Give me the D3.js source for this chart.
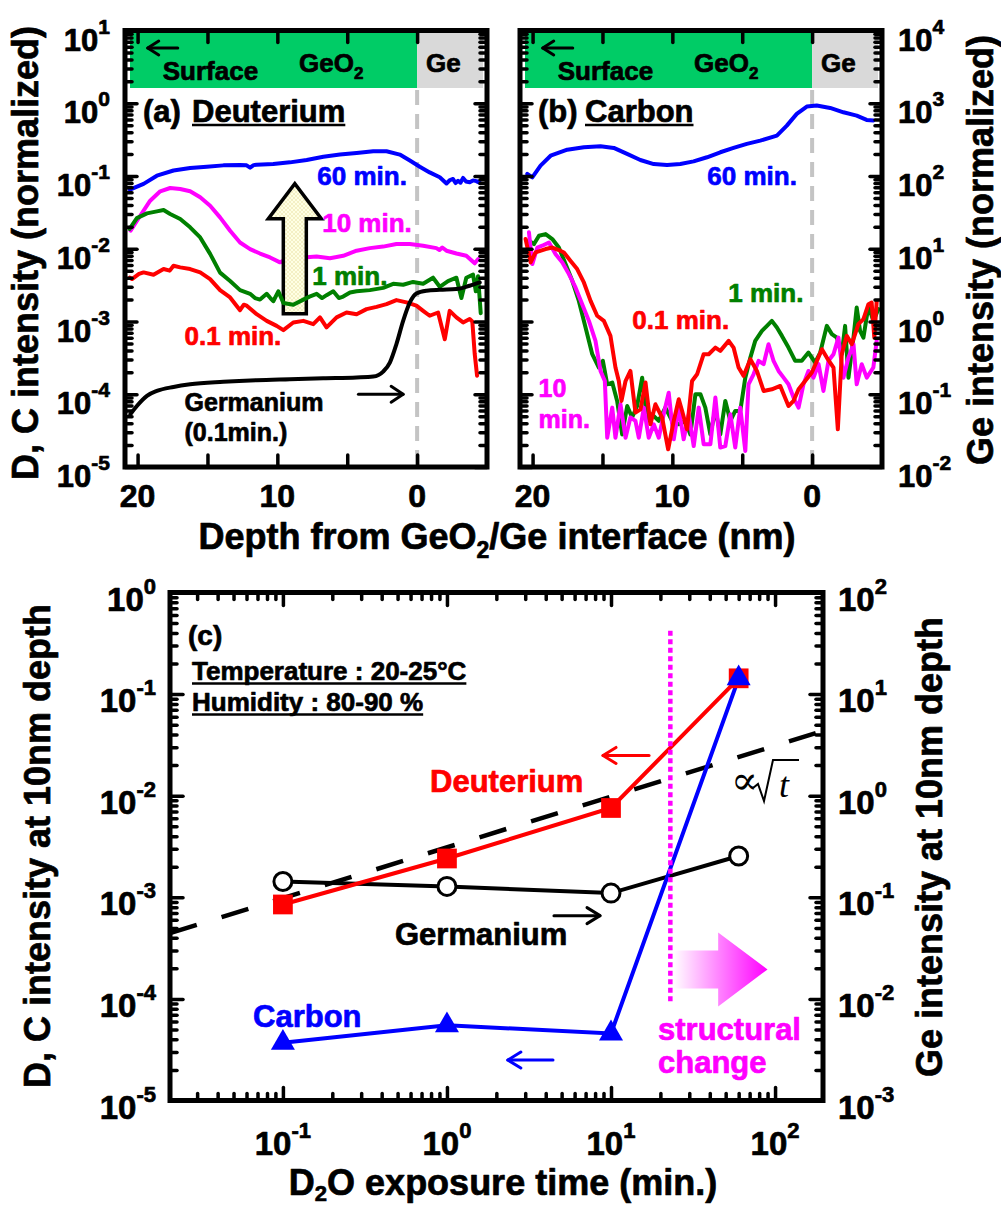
<!DOCTYPE html>
<html><head><meta charset="utf-8">
<script src="https://cdn.jsdelivr.net/npm/d3@7"></script>
<style>
html,body{margin:0;padding:0;background:#fff;}
svg{display:block;}
text{font-family:"Liberation Sans",Arial,sans-serif;font-weight:bold;}
</style></head><body>
<svg id="fig" width="1001" height="1207"></svg>
<script>
// ---------------- data: depth profiles (depth in nm, normalized intensity) ----------------
const depthTicks = [20, 15, 10, 5, 0];
const depthTickLabels = [20, 10, 0];
const dcExponentsAB = [1, 0, -1, -2, -3, -4, -5];   // D, C axis (panels a, b)
const geExponentsAB = [4, 3, 2, 1, 0, -1, -2];      // Ge axis (panel b)

// (a) deuterium
const deut60 = [[20.55,0.065],[19.57,0.078],[18.62,0.101],[17.43,0.119],[16.24,0.129],[15.05,0.134],[13.86,0.140],[12.67,0.142],[12.2,0.140],[11.95,0.130],[11.7,0.141],[11.48,0.143],[10.29,0.146],[9.10,0.154],[7.90,0.166],[6.71,0.184],[5.52,0.197],[4.33,0.207],[3.14,0.219],[2.19,0.219],[1.24,0.197],[0.52,0.163],[-0.19,0.134],[-0.90,0.112],[-1.62,0.096],[-2.10,0.079],[-2.35,0.088],[-2.57,0.091],[-2.75,0.080],[-2.93,0.086],[-3.1,0.081],[-3.29,0.094],[-3.5,0.084],[-3.76,0.082],[-4.0,0.087],[-4.24,0.085],[-4.5,0.080]];
const deut10 = [[20.5,0.0178],[19.81,0.0284],[19.10,0.0458],[18.38,0.0616],[17.67,0.0684],[16.95,0.0663],[16.24,0.0616],[15.52,0.0509],[14.81,0.0391],[14.10,0.027],[13.38,0.0177],[12.67,0.0122],[11.95,0.0099],[11.24,0.0086],[10.52,0.0076],[9.81,0.0065],[9.33,0.0072],[8.14,0.0076],[7.19,0.0078],[6.24,0.0074],[5.29,0.0080],[4.33,0.0094],[3.38,0.0102],[2.43,0.0107],[1.48,0.0116],[0.52,0.0116],[-0.43,0.0110],[-1.38,0.0102],[-1.6,0.0096],[-1.8,0.0104],[-2.10,0.0094],[-2.81,0.0086],[-3.52,0.0080],[-4.12,0.0063],[-4.36,0.0072]];
const deut1 = [[20.57,0.0187],[20.05,0.0264],[19.33,0.0306],[18.62,0.0326],[18.14,0.034],[17.67,0.030],[16.95,0.0256],[16.24,0.0197],[15.52,0.0143],[14.81,0.0085],[14.10,0.0047],[13.38,0.0036],[12.67,0.0027],[11.95,0.0024],[11.6,0.0021],[11.24,0.0020],[10.76,0.0024],[10.5,0.0021],[10.29,0.0019],[9.93,0.0026],[9.57,0.0018],[8.86,0.0017],[8.14,0.0020],[7.7,0.0022],[7.19,0.0024],[6.8,0.0021],[6.48,0.0023],[6.0,0.0026],[5.6,0.0021],[5.29,0.0022],[4.8,0.0025],[4.33,0.0026],[3.38,0.0027],[2.43,0.0029],[1.71,0.0033],[1.0,0.0032],[0.29,0.0035],[-0.43,0.0033],[-1.14,0.0040],[-1.62,0.0030],[-2.21,0.0036],[-2.81,0.0040],[-3.17,0.0021],[-3.52,0.0040],[-4.0,0.0044],[-4.2,0.0026],[-4.36,0.0042],[-4.55,0.0013]];
const deut01 = [[20.55,0.0040],[20.4,0.00383],[19.9,0.0045],[19.57,0.00473],[18.86,0.0044],[18.14,0.00526],[17.7,0.0050],[17.43,0.00585],[16.95,0.00555],[16.24,0.00526],[15.52,0.00473],[14.81,0.00383],[14.10,0.0027],[13.38,0.00214],[12.67,0.00143],[12.4,0.0017],[12.19,0.00165],[11.48,0.00126],[10.76,0.00102],[10.05,0.00087],[9.57,0.00076],[8.86,0.00097],[8.14,0.00102],[7.43,0.00092],[6.95,0.00114],[6.48,0.00083],[5.76,0.00114],[5.05,0.00133],[4.33,0.00126],[3.62,0.00148],[2.90,0.00159],[2.19,0.00173],[1.48,0.00197],[0.76,0.00183],[0.05,0.00165],[-0.43,0.0014],[-0.90,0.0012],[-1.50,0.00133],[-1.98,0.00057],[-2.33,0.0014],[-2.81,0.00114],[-3.29,0.00097],[-3.76,0.00108],[-3.95,0.0010],[-4.12,0.00036],[-4.29,0.00018]];
const germ01 = [[20.52,5.3e-5],[20.05,6.9e-5],[19.33,9.5e-5],[18.62,1.11e-4],[17.43,1.26e-4],[16.24,1.37e-4],[13.86,1.48e-4],[11.48,1.56e-4],[9.10,1.61e-4],[6.71,1.66e-4],[4.33,1.70e-4],[3.14,1.75e-4],[2.43,2.05e-4],[1.95,2.73e-4],[1.48,4.9e-4],[1.00,1.02e-3],[0.52,1.83e-3],[0.05,2.43e-3],[-0.67,2.65e-3],[-1.62,2.73e-3],[-2.81,2.79e-3],[-3.76,3.1e-3],[-4.48,3.44e-3]];

// (b) carbon
const carb60 = [[20.38,107],[20.02,96],[19.43,139],[18.71,190],[17.52,230],[16.33,248],[15.14,256],[14.19,243],[13.24,201],[12.29,166],[11.33,146],[10.38,142],[9.43,146],[8.48,159],[7.52,181],[6.57,212],[5.62,243],[4.67,276],[3.71,306],[2.52,359],[1.81,493],[1.10,714],[0.38,900],[-0.33,929],[-1.29,863],[-2.24,751],[-3.19,676],[-3.90,590],[-4.38,578]];
const carb1 = [[20.26,12.9],[19.90,11.6],[19.54,15.1],[19.07,15.9],[18.59,13.6],[18.12,10.4],[17.64,6.15],[17.16,3.62],[16.69,1.92],[16.21,0.826],[15.73,0.355],[15.26,0.233],[14.97,0.288],[14.66,0.137],[14.30,0.145],[13.95,0.081],[13.59,0.028],[13.23,0.069],[12.88,0.048],[12.52,0.069],[12.16,0.169],[11.80,0.043],[11.45,0.053],[10.97,0.043],[10.50,0.0655],[10.02,0.043],[9.54,0.0386],[9.07,0.043],[8.71,0.028],[8.35,0.100],[7.99,0.100],[7.64,0.0655],[7.28,0.028],[6.92,0.062],[6.57,0.028],[6.21,0.081],[5.85,0.043],[5.50,0.059],[5.14,0.059],[4.78,0.169],[4.42,0.319],[4.07,0.542],[3.59,0.743],[3.23,0.871],[2.88,1.02],[2.52,0.826],[2.16,0.634],[1.69,0.438],[1.21,0.288],[0.74,0.288],[0.26,0.374],[-0.22,0.273],[-0.58,0.374],[-1.05,0.871],[-1.41,0.670],[-1.77,0.601],[-2.12,0.355],[-2.36,0.871],[-2.60,0.169],[-2.96,0.601],[-3.19,1.56],[-3.43,0.743],[-3.67,0.601],[-4.03,1.64],[-4.38,1.02],[-4.74,1.48]];
const carb10 = [[20.26,16.8],[20.02,6.15],[19.66,10.4],[19.31,11.0],[18.83,12.2],[18.35,8.4],[17.88,6.5],[17.40,4.48],[16.93,2.94],[16.45,1.73],[15.97,1.02],[15.50,0.542],[15.14,0.209],[14.83,0.152],[14.66,0.0253],[14.30,0.0655],[14.07,0.0253],[13.71,0.0728],[13.35,0.0253],[13.00,0.048],[12.64,0.043],[12.40,0.0253],[12.04,0.0655],[11.69,0.0253],[11.33,0.0386],[10.97,0.0253],[10.62,0.053],[10.26,0.105],[9.90,0.024],[9.54,0.0655],[9.19,0.024],[8.83,0.053],[8.47,0.0194],[8.11,0.0655],[7.76,0.0205],[7.28,0.0205],[6.92,0.090],[6.57,0.0185],[6.21,0.0194],[5.85,0.053],[5.50,0.0185],[5.14,0.0655],[4.78,0.0166],[4.55,0.137],[4.19,0.188],[3.83,0.288],[3.47,0.259],[3.12,0.487],[2.76,0.288],[2.40,0.209],[2.04,0.169],[1.69,0.137],[1.33,0.090],[0.97,0.0655],[0.62,0.137],[0.26,0.209],[-0.10,0.169],[-0.46,0.259],[-0.81,0.111],[-1.17,0.288],[-1.53,0.355],[-1.88,0.601],[-2.24,0.169],[-2.60,0.319],[-2.96,0.487],[-3.19,0.137],[-3.55,0.259],[-3.91,0.169],[-4.38,0.233],[-4.62,0.542]];
const carb01 = [[20.50,13.6],[20.14,6.5],[19.79,8.9],[19.07,9.9],[18.59,10.4],[18.12,9.6],[17.76,8.9],[17.28,6.8],[16.81,5.25],[16.33,3.44],[15.85,1.92],[15.38,1.20],[14.90,1.02],[14.43,0.634],[14.07,0.233],[13.83,0.152],[13.64,0.081],[13.35,0.152],[13.00,0.209],[12.64,0.056],[12.28,0.062],[11.92,0.145],[11.57,0.0386],[11.21,0.0728],[10.73,0.0478],[10.30,0.0175],[9.90,0.043],[9.54,0.0853],[9.30,0.0589],[8.95,0.033],[8.59,0.152],[8.23,0.188],[7.76,0.355],[7.40,0.355],[6.92,0.438],[6.57,0.395],[5.97,0.542],[5.62,0.438],[5.26,0.233],[4.90,0.179],[4.42,0.303],[3.95,0.209],[3.47,0.111],[2.88,0.117],[2.28,0.130],[1.69,0.069],[1.33,0.081],[0.97,0.117],[0.50,0.152],[0.02,0.199],[-0.34,0.287],[-0.70,0.416],[-1.05,0.319],[-1.53,0.233],[-1.84,0.033],[-2.12,0.355],[-2.48,0.634],[-2.84,0.487],[-3.31,0.918],[-3.67,1.08],[-4.03,1.73],[-4.26,1.82],[-4.45,0.60],[-4.62,1.9]];

// ---------------- data: intensity at 10 nm depth vs D2O exposure ----------------
const exposureTimes = [0.1, 1, 10, 60];                 // min.
const deuteriumAt10nm = [8.5e-4, 2.41e-3, 7.57e-3, 0.143];
const carbonAt10nm = [3.7e-5, 5.5e-5, 4.57e-5, 0.143];
const germaniumAt10nm = [0.143, 0.128, 0.110, 0.255]; // right axis
const sqrtGuide = [[0.0205, 4.44e-4], [196, 4.34e-2]];  // slope 1/2 in log-log
const structuralChangeTime = 23;
const timeExponents = [-1, 0, 1, 2];
const dcExponentsC = [0, -1, -2, -3, -4, -5];
const geExponentsC = [2, 1, 0, -1, -2, -3];

// ---------------- colours ----------------
const C60 = '#0000FF', C10 = '#FF00FF', C1 = '#008000', C01 = '#FF0000';

const svg = d3.select('#fig');
const defs = svg.append('defs');

// ---------------- geometry & scales ----------------
const PA = {x0:125, x1:487, y0:30.5, y1:467};
const PB = {x0:520, x1:882, y0:30.5, y1:467};
const PC = {x0:170, x1:823, y0:592.5, y1:1100.5};
const depthDomain = [20.9, -5];

const xA = d3.scaleLinear().domain(depthDomain).range([PA.x0, PA.x1]);
const xB = d3.scaleLinear().domain(depthDomain).range([PB.x0, PB.x1]);
const yA = d3.scaleLog().domain([1e-5, 1e1]).range([PA.y1, PA.y0]);
const yB = d3.scaleLog().domain([1e-2, 1e4]).range([PB.y1, PB.y0]);
const xC = d3.scaleLog().domain([0.0205, 196]).range([PC.x0, PC.x1]);
const yCL = d3.scaleLog().domain([1e-5, 1]).range([PC.y1, PC.y0]);
const yCR = d3.scaleLog().domain([1e-3, 1e2]).range([PC.y1, PC.y0]);

const isDecade = v => Math.abs(Math.log10(v) - Math.round(Math.log10(v))) < 1e-9;

// ---------------- helpers ----------------
function inwardTicks(axisGen, values, len, tx, ty) {
  const g = svg.append('g').attr('transform', `translate(${tx},${ty})`)
    .call(axisGen.tickValues(values).tickSize(-len).tickFormat(() => ''));
  g.select('.domain').remove();
  g.selectAll('.tick text').remove();
  g.selectAll('.tick line').attr('stroke', '#000').attr('stroke-width', 3.5).attr('stroke-linecap', 'round');
}
function frame(P) {
  svg.append('rect').attr('x', P.x0).attr('y', P.y0).attr('width', P.x1 - P.x0).attr('height', P.y1 - P.y0)
    .attr('fill', 'none').attr('stroke', '#000').attr('stroke-width', 5);
}
function powLabel(x, y, exp, anchor, fs, sfs, shift) {
  const t = svg.append('text').attr('class', 'bold').attr('x', x).attr('y', y).attr('text-anchor', anchor).attr('font-size', fs);
  t.append('tspan').text('10');
  t.append('tspan').attr('dy', -shift).attr('font-size', sfs).text(exp);
}
function label(x, y, str, fs, color, opts = {}) {
  const t = svg.append('text').attr('class', 'bold').attr('x', x).attr('y', y).attr('font-size', fs).attr('fill', color || '#000')
    .attr('text-anchor', opts.anchor || 'start').text(str);
  if (opts.underline) {
    const w = t.node().getComputedTextLength();
    svg.append('line').attr('x1', x).attr('x2', x + w).attr('y1', y + opts.underline).attr('y2', y + opts.underline)
      .attr('stroke', color || '#000').attr('stroke-width', 2.5);
  }
  return t;
}
function openArrow(x1, y1, x2, y2, color, sw, hl, hw) {
  const a = Math.atan2(y2 - y1, x2 - x1);
  const g = svg.append('g').attr('stroke', color).attr('stroke-width', sw).attr('fill', 'none')
    .attr('stroke-linecap', 'round').attr('stroke-linejoin', 'round');
  g.append('line').attr('x1', x1).attr('y1', y1).attr('x2', x2).attr('y2', y2);
  const p = s => [x2 - hl * Math.cos(a) + s * hw * Math.sin(a), y2 - hl * Math.sin(a) - s * hw * Math.cos(a)];
  const [ax, ay] = p(1), [bx, by] = p(-1);
  g.append('path').attr('d', `M${ax},${ay}L${x2},${y2}L${bx},${by}`);
}
function clip(id, P) {
  defs.append('clipPath').attr('id', id).append('rect')
    .attr('x', P.x0 + 2).attr('y', P.y0 + 2).attr('width', P.x1 - P.x0 - 4).attr('height', P.y1 - P.y0 - 4);
}

// ---------------- panels (a) and (b): depth profiles ----------------
clip('clipA', PA); clip('clipB', PB);

function layerBand(P, xs) {
  svg.append('rect').attr('x', P.x0 + 5).attr('y', 33).attr('width', xs(0) - P.x0 - 5).attr('height', 55).attr('fill', '#00CC66');
  svg.append('rect').attr('x', xs(0)).attr('y', 33).attr('width', P.x1 - 4 - xs(0)).attr('height', 55).attr('fill', '#D9D9D9');
  svg.append('line').attr('x1', xs(0)).attr('x2', xs(0)).attr('y1', 90).attr('y2', P.y1)
    .attr('stroke', '#C4C4C4').attr('stroke-width', 4).attr('stroke-dasharray', '15 9');
  openArrow(xs(18.2) + 15, 48, xs(18.2) - 15, 48, '#000', 3, 11, 7);
  label(xs(18.2), 80, 'Surface', 26);
  const t = svg.append('text').attr('class', 'bold').attr('x', xs(8.45)).attr('y', 72).attr('font-size', 26);
  t.append('tspan').text('GeO');
  t.append('tspan').attr('font-size', 17).attr('dy', 7).text('2');
  label(xs(-0.64), 72, 'Ge', 26);
}
layerBand(PA, xA);
layerBand(PB, xB);

const lineA = d3.line().x(d => xA(d[0])).y(d => yA(d[1]));
const lineB = d3.line().x(d => xB(d[0])).y(d => yB(d[1]));
const gA = svg.append('g').attr('clip-path', 'url(#clipA)').attr('fill', 'none')
  .attr('stroke-width', 4).attr('stroke-linejoin', 'round').attr('stroke-linecap', 'round');
gA.append('path').datum(deut60).attr('d', lineA).attr('stroke', C60);
gA.append('path').datum(deut10).attr('d', lineA).attr('stroke', C10);

// hollow up-arrow (increasing exposure)
const hatch = defs.append('pattern').attr('id', 'hatch').attr('width', 4).attr('height', 4).attr('patternUnits', 'userSpaceOnUse');
hatch.append('rect').attr('width', 4).attr('height', 4).attr('fill', '#FFFFE4');
hatch.append('path').attr('d', 'M0,0L4,4M4,0L0,4').attr('stroke', '#EFE9B8').attr('stroke-width', 0.7);
{
  const cx = xA(8.75), tip = yA(0.0785), base = yA(0.0259), bot = yA(1.28e-3), bw = 11.5, hw = 26.5;
  svg.append('path').attr('d', `M${cx - bw},${bot}L${cx - bw},${base}L${cx - hw},${base}L${cx},${tip}L${cx + hw},${base}L${cx + bw},${base}L${cx + bw},${bot}Z`)
    .attr('fill', 'url(#hatch)').attr('stroke', '#000').attr('stroke-width', 3.5).attr('stroke-linejoin', 'miter');
}
const gA2 = svg.append('g').attr('clip-path', 'url(#clipA)').attr('fill', 'none')
  .attr('stroke-width', 4).attr('stroke-linejoin', 'round').attr('stroke-linecap', 'round');
gA2.append('path').datum(deut1).attr('d', lineA).attr('stroke', C1);
gA2.append('path').datum(deut01).attr('d', lineA).attr('stroke', C01);
gA2.append('path').datum(germ01).attr('d', lineA.curve(d3.curveMonotoneX)).attr('stroke', '#000');
lineA.curve(d3.curveLinear);

const gB = svg.append('g').attr('clip-path', 'url(#clipB)').attr('fill', 'none')
  .attr('stroke-width', 4).attr('stroke-linejoin', 'round').attr('stroke-linecap', 'round');
gB.append('path').datum(carb60).attr('d', lineB).attr('stroke', C60);
gB.append('path').datum(carb1).attr('d', lineB).attr('stroke', C1);
gB.append('path').datum(carb10).attr('d', lineB).attr('stroke', C10);
gB.append('path').datum(carb01).attr('d', lineB).attr('stroke', C01);

// ticks and frames (a), (b)
[[PA, xA, yA], [PB, xB, yB]].forEach(([P, xs, ys]) => {
  const all = ys.ticks();
  const maj = all.filter(isDecade), min = all.filter(v => !isDecade(v));
  inwardTicks(d3.axisLeft(ys), maj, 12, P.x0, 0);
  inwardTicks(d3.axisLeft(ys), min, 7, P.x0, 0);
  inwardTicks(d3.axisRight(ys), maj, 12, P.x1, 0);
  inwardTicks(d3.axisRight(ys), min, 7, P.x1, 0);
  inwardTicks(d3.axisBottom(xs), depthTicks, 12, 0, P.y1);
  inwardTicks(d3.axisTop(xs), depthTicks, 12, 0, P.y0);
  frame(P);
  depthTickLabels.forEach(d => label(xs(d), 507, String(d), 32, '#000', {anchor: 'middle'}));
});
dcExponentsAB.forEach(e => powLabel(110, yA(Math.pow(10, e)) + 20, String(e), 'end', 31, 21, 17));
geExponentsAB.forEach(e => powLabel(898, yB(Math.pow(10, e)) + 20, String(e), 'start', 31, 21, 17));

// panel annotations (a)
label(143, 122, '(a)', 31);
label(192, 122, 'Deuterium', 31, '#000', {underline: 3});
label(xA(7.14), 185, '60 min.', 26, C60);
label(xA(6.79), 232, '10 min.', 26, C10);
label(xA(7.5), 285, '1 min.', 26, C1);
label(xA(16.64), 345, '0.1 min.', 26, C01);
label(xA(16.64), 411, 'Germanium', 25);
label(xA(16.64), 441, '(0.1min.)', 25);
openArrow(xA(4.2), yA(1.0e-4), xA(1.0), yA(1.0e-4), '#000', 3, 12, 8);

// panel annotations (b)
label(538, 122, '(b)', 31);
label(585, 122, 'Carbon', 31, '#000', {underline: 3});
label(xB(7.5), 185, '60 min.', 26, C60);
label(xB(6.0), 302, '1 min.', 26, C1);
label(xB(12.86), 329, '0.1 min.', 26, C01);
label(xB(19.57), 397, '10', 25, C10);
label(xB(19.57), 428, 'min.', 25, C10);

// axis titles (a), (b)
svg.append('text').attr('class', 'bold').attr('transform', 'translate(38,253) rotate(-90)').attr('text-anchor', 'middle')
  .attr('font-size', 36).text('D, C intensity (normalized)');
svg.append('text').attr('class', 'bold').attr('transform', 'translate(993,250) rotate(-90)').attr('text-anchor', 'middle')
  .attr('font-size', 36).text('Ge intensity (normalized)');
{
  const t = svg.append('text').attr('class', 'bold').attr('x', 497).attr('y', 549).attr('text-anchor', 'middle').attr('font-size', 36);
  t.append('tspan').text('Depth from GeO');
  t.append('tspan').attr('font-size', 23).attr('dy', 9).text('2');
  t.append('tspan').attr('dy', -9).text('/Ge interface (nm)');
}

// ---------------- panel (c): intensity at 10 nm vs exposure time ----------------
{
  const all = xC.ticks();
  const maj = all.filter(isDecade), min = all.filter(v => !isDecade(v));
  inwardTicks(d3.axisBottom(xC), maj, 13, 0, PC.y1);
  inwardTicks(d3.axisBottom(xC), min, 7, 0, PC.y1);
  inwardTicks(d3.axisTop(xC), maj, 13, 0, PC.y0);
  inwardTicks(d3.axisTop(xC), min, 7, 0, PC.y0);
  const yl = yCL.ticks(), yr = yCR.ticks();
  inwardTicks(d3.axisLeft(yCL), yl.filter(isDecade), 13, PC.x0, 0);
  inwardTicks(d3.axisLeft(yCL), yl.filter(v => !isDecade(v)), 7, PC.x0, 0);
  inwardTicks(d3.axisRight(yCR), yr.filter(isDecade), 13, PC.x1, 0);
  inwardTicks(d3.axisRight(yCR), yr.filter(v => !isDecade(v)), 7, PC.x1, 0);
}

const gC = svg.append('g');
// sqrt(t) guide
gC.append('path').datum(sqrtGuide).attr('d', d3.line().x(d => xC(d[0])).y(d => yCL(d[1])))
  .attr('fill', 'none').attr('stroke', '#000').attr('stroke-width', 4.5).attr('stroke-dasharray', '28 26');
const ptsL = vals => exposureTimes.map((t, i) => [xC(t), yCL(vals[i])]);
const ptsR = vals => exposureTimes.map((t, i) => [xC(t), yCR(vals[i])]);
const lin = d3.line();
gC.append('path').attr('d', lin(ptsR(germaniumAt10nm))).attr('fill', 'none').attr('stroke', '#000').attr('stroke-width', 4);
gC.append('path').attr('d', lin(ptsL(deuteriumAt10nm))).attr('fill', 'none').attr('stroke', C01).attr('stroke-width', 4);
gC.append('path').attr('d', lin(ptsL(carbonAt10nm))).attr('fill', 'none').attr('stroke', C60).attr('stroke-width', 4);
gC.selectAll('circle.ge').data(ptsR(germaniumAt10nm)).join('circle')
  .attr('cx', d => d[0]).attr('cy', d => d[1]).attr('r', 9).attr('fill', '#fff').attr('stroke', '#000').attr('stroke-width', 3);
gC.selectAll('path.d').data(ptsL(deuteriumAt10nm)).join('path').attr('class', 'd')
  .attr('transform', d => `translate(${d[0]},${d[1]})`).attr('d', d3.symbol(d3.symbolSquare, 390)).attr('fill', C01);
gC.selectAll('path.c').data(ptsL(carbonAt10nm)).join('path').attr('class', 'c')
  .attr('transform', d => `translate(${d[0]},${d[1]})`).attr('d', d3.symbol(d3.symbolTriangle, 250)).attr('fill', C60);

// structural change marker
svg.append('line').attr('x1', xC(structuralChangeTime)).attr('x2', xC(structuralChangeTime))
  .attr('y1', yCL(0.42)).attr('y2', yCL(9e-5))
  .attr('stroke', '#FF00FF').attr('stroke-width', 4.5).attr('stroke-dasharray', '5 3.5');
{
  const grad = defs.append('linearGradient').attr('id', 'pinkGrad').attr('x1', '0%').attr('x2', '100%');
  grad.append('stop').attr('offset', '0%').attr('stop-color', '#FFFFFF');
  grad.append('stop').attr('offset', '100%').attr('stop-color', '#FF00FF');
  const x0 = xC(24), xb = xC(45), xt = xC(90), cy = yCL(1.95e-4), bh = 19, hh = 37;
  svg.append('path').attr('d', `M${x0},${cy - bh}L${xb},${cy - bh}L${xb},${cy - hh}L${xt},${cy}L${xb},${cy + hh}L${xb},${cy + bh}L${x0},${cy + bh}Z`)
    .attr('fill', 'url(#pinkGrad)');
}

svg.append('rect').attr('x', PC.x0).attr('y', PC.y0).attr('width', PC.x1 - PC.x0).attr('height', PC.y1 - PC.y0)
  .attr('fill', 'none').attr('stroke', '#000').attr('stroke-width', 5);

// tick labels (c)
dcExponentsC.forEach(e => powLabel(156, yCL(Math.pow(10, e)) + 18, String(e), 'end', 33, 22, 17));
geExponentsC.forEach(e => powLabel(838, yCR(Math.pow(10, e)) + 18, String(e), 'start', 33, 22, 17));
timeExponents.forEach(e => powLabel(xC(Math.pow(10, e)), 1155, String(e), 'middle', 33, 22, 17));

// annotations (c)
label(188, 645, '(c)', 28);
label(192, 680, 'Temperature : 20-25\u00B0C', 26, '#000', {underline: 3.5});
label(192, 711, 'Humidity : 80-90 %', 26, '#000', {underline: 3.5});
label(430, 792, 'Deuterium', 31, C01);
label(395, 945, 'Germanium', 31);
label(253, 1027, 'Carbon', 31, C60);
label(658, 1040, 'structural', 31, '#FF00FF');
label(658, 1073, 'change', 31, '#FF00FF');
openArrow(xC(17.06), yCL(0.0249), xC(8.94), yCL(0.0249), C01, 3, 13, 8);
openArrow(xC(4.49), yCL(6.6e-4), xC(8.57), yCL(6.6e-4), '#000', 3, 13, 8);
openArrow(xC(4.43), yCL(2.5e-5), xC(2.35), yCL(2.5e-5), C60, 3, 13, 8);

// proportional-to-sqrt(t) note
svg.append('text').attr('x', 731).attr('y', 794).attr('font-size', 40)
  .style('font-family', '"DejaVu Serif", serif').style('font-weight', 'normal').text('\u221D');
svg.append('path').attr('d', 'M753,788L758,784L764,801L773,760L799,760').attr('fill', 'none')
  .attr('stroke', '#000').attr('stroke-width', 2);
svg.append('text').attr('x', 779).attr('y', 797).attr('font-size', 36)
  .style('font-family', '"Liberation Serif", serif').style('font-weight', 'normal').style('font-style', 'italic').text('t');

// axis titles (c)
svg.append('text').attr('class', 'bold').attr('transform', 'translate(50,846) rotate(-90)').attr('text-anchor', 'middle')
  .attr('font-size', 36).text('D, C intensity at 10nm depth');
svg.append('text').attr('class', 'bold').attr('transform', 'translate(942,847) rotate(-90)').attr('text-anchor', 'middle')
  .attr('font-size', 36).text('Ge intensity at 10nm depth');
{
  const t = svg.append('text').attr('class', 'bold').attr('x', 503).attr('y', 1195).attr('text-anchor', 'middle').attr('font-size', 36);
  t.append('tspan').text('D');
  t.append('tspan').attr('font-size', 22).attr('dy', 6).text('2');
  t.append('tspan').attr('dy', -6).text('O exposure time (min.)');
}

// heavier glyph weight for the bold sans labels
svg.selectAll('text.bold').each(function () {
  const f = this.getAttribute('fill') || '#000';
  d3.select(this).attr('stroke', f).attr('stroke-width', 0.7).attr('stroke-linejoin', 'round');
});
</script>
</body></html>
